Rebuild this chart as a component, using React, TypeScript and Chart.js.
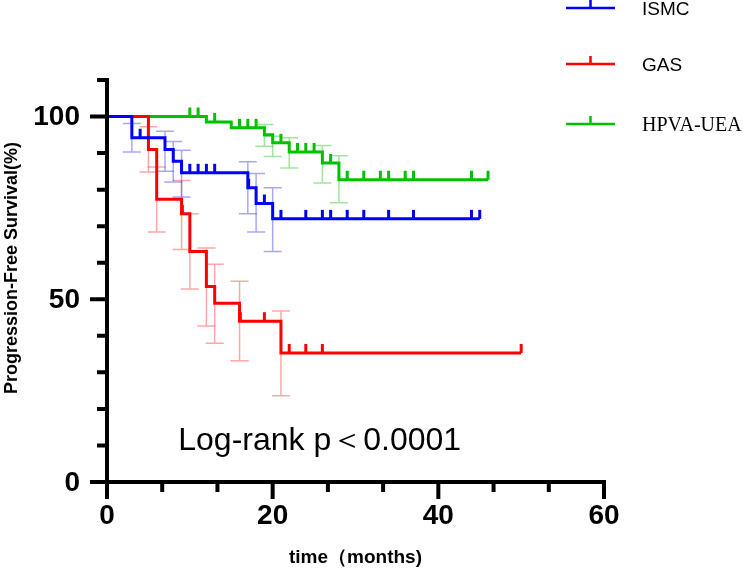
import React, { useEffect, useRef } from 'react';
import { Chart, registerables } from 'chart.js';
Chart.register(...registerables);

// ---------- data ----------
const groupLabels = ['ISMC', 'GAS', 'HPVA-UEA'];

const ismcTimes = [0, 3, 7, 8, 9, 17, 18, 20, 45];
const ismcSurv = [100, 94.2, 91.0, 87.8, 84.6, 80.5, 76.2, 72.0, 72.0];
const ismcCensored = [4, 10, 11, 12, 13, 17.1, 19, 21, 24, 26, 27, 29, 31, 34, 37, 44, 45];
const ismcErrTimes = [3, 7, 8, 9, 17, 18, 20];
const ismcErrLow = [90.3, 85.0, 82.1, 78.0, 73.4, 68.4, 63.1];
const ismcErrHigh = [98.1, 96.0, 93.2, 90.8, 87.6, 84.4, 80.5];

const gasTimes = [0, 5, 6, 9, 10, 12, 13, 16, 21, 50];
const gasSurv = [100, 91.0, 77.4, 73.4, 63.1, 53.5, 48.9, 44.0, 35.3, 35.3];
const gasCensored = [9.1, 16.1, 19, 22, 24, 26, 50];
const gasErrTimes = [5, 6, 9, 10, 12, 13, 16, 21];
const gasErrLow = [84.8, 68.4, 63.6, 52.8, 42.7, 38.0, 33.2, 23.6];
const gasErrHigh = [97.2, 86.2, 82.5, 73.4, 64.0, 59.6, 54.9, 46.8];

const hpvaTimes = [0, 12, 15, 19, 20, 22, 26, 28, 46];
const hpvaSurv = [100, 98.5, 96.9, 95.0, 92.8, 90.3, 87.3, 82.7, 82.7];
const hpvaCensored = [10, 11, 13, 16, 17, 18, 21, 23, 24, 25, 27, 29, 31, 33, 34, 36, 37, 44, 46];
const hpvaErrTimes = [19, 20, 22, 26, 28];
const hpvaErrLow = [91.9, 89.1, 85.9, 81.8, 76.4];
const hpvaErrHigh = [97.8, 94.6, 94.2, 92.1, 89.3];

const xMajorTicks = [0, 20, 40, 60];
const xMinorTicks = [20 / 3, 40 / 3, 80 / 3, 100 / 3, 140 / 3, 160 / 3];
const yMajorTicks = [0, 50, 100];
const yMinorTicks = [10, 20, 30, 40, 60, 70, 80, 90, 110];

const xTitle = 'time（months)';
const yTitle = 'Progression-Free Survival(%)';
const annotationText = 'Log-rank p＜0.0001';

// ---------- helpers ----------
const survAt = (times: number[], surv: number[], t: number) => {
  let v = surv[0];
  for (let i = 0; i < times.length; i++) if (times[i] <= t) v = surv[i];
  return v;
};

const groups = [
  {
    label: groupLabels[0], color: '#0000ff', light: 'rgba(60,60,255,0.45)',
    times: ismcTimes, surv: ismcSurv, cens: ismcCensored,
    et: ismcErrTimes, el: ismcErrLow, eh: ismcErrHigh,
    font: '19px "Liberation Sans", Arial, sans-serif',
  },
  {
    label: groupLabels[1], color: '#ff0000', light: 'rgba(255,60,60,0.45)',
    times: gasTimes, surv: gasSurv, cens: gasCensored,
    et: gasErrTimes, el: gasErrLow, eh: gasErrHigh,
    font: '19px "Liberation Sans", Arial, sans-serif',
  },
  {
    label: groupLabels[2], color: '#00c000', light: 'rgba(40,200,40,0.45)',
    times: hpvaTimes, surv: hpvaSurv, cens: hpvaCensored,
    et: hpvaErrTimes, el: hpvaErrLow, eh: hpvaErrHigh,
    font: '20px "Liberation Serif", "Times New Roman", serif',
  },
];

const errorBarPlugin = {
  id: 'kmErrorBars',
  beforeDatasetsDraw(chart: any) {
    const ctx = chart.ctx;
    const xs = chart.scales.x, ys = chart.scales.y;
    ctx.save();
    ctx.lineWidth = 1.5;
    ctx.lineCap = 'butt';
    for (let g = groups.length - 1; g >= 0; g--) {
      const gr = groups[g];
      ctx.strokeStyle = gr.light;
      gr.et.forEach((t, i) => {
        const x = xs.getPixelForValue(t);
        const yl = ys.getPixelForValue(gr.el[i]);
        const yh = ys.getPixelForValue(gr.eh[i]);
        ctx.beginPath();
        ctx.moveTo(x, yl); ctx.lineTo(x, yh);
        ctx.moveTo(x - 9, yl); ctx.lineTo(x + 9, yl);
        ctx.moveTo(x - 9, yh); ctx.lineTo(x + 9, yh);
        ctx.stroke();
      });
    }
    ctx.restore();
  },
};

const axesPlugin = {
  id: 'kmAxes',
  afterDraw(chart: any) {
    const ctx = chart.ctx;
    const xs = chart.scales.x, ys = chart.scales.y;
    const x0 = xs.getPixelForValue(xs.min), x1 = xs.getPixelForValue(xs.max);
    const y0 = ys.getPixelForValue(ys.min), y1 = ys.getPixelForValue(ys.max);
    ctx.save();
    ctx.strokeStyle = '#000';
    ctx.fillStyle = '#000';
    ctx.lineWidth = 4;
    ctx.lineCap = 'butt';
    ctx.beginPath();
    ctx.moveTo(x0, y0 + 2); ctx.lineTo(x0, y1 - 2);
    ctx.moveTo(x0 - 2, y0); ctx.lineTo(x1 + 2, y0);
    yMajorTicks.forEach((v) => { const y = ys.getPixelForValue(v); ctx.moveTo(x0, y); ctx.lineTo(x0 - 17, y); });
    yMinorTicks.forEach((v) => { const y = ys.getPixelForValue(v); ctx.moveTo(x0, y); ctx.lineTo(x0 - 10, y); });
    xMajorTicks.forEach((v) => { const x = xs.getPixelForValue(v); ctx.moveTo(x, y0); ctx.lineTo(x, y0 + 17); });
    xMinorTicks.forEach((v) => { const x = xs.getPixelForValue(v); ctx.moveTo(x, y0); ctx.lineTo(x, y0 + 10); });
    ctx.stroke();

    ctx.font = 'bold 28px "Liberation Sans", Arial, sans-serif';
    ctx.textAlign = 'right';
    ctx.textBaseline = 'middle';
    yMajorTicks.forEach((v) => ctx.fillText(String(v), x0 - 27, ys.getPixelForValue(v) + 1));
    ctx.textAlign = 'center';
    ctx.textBaseline = 'top';
    xMajorTicks.forEach((v) => ctx.fillText(String(v), xs.getPixelForValue(v), y0 + 20));

    // axis titles
    ctx.font = 'bold 19px "Liberation Sans", Arial, sans-serif';
    ctx.textAlign = 'center';
    ctx.textBaseline = 'middle';
    ctx.fillText(xTitle, (x0 + x1) / 2, y0 + 76);
    ctx.save();
    ctx.translate(12, 268);
    ctx.rotate(-Math.PI / 2);
    ctx.font = 'bold 18px "Liberation Sans", Arial, sans-serif';
    ctx.fillText(yTitle, 0, 0);
    ctx.restore();

    // log-rank annotation
    ctx.font = '32px "Liberation Sans", Arial, sans-serif';
    ctx.textAlign = 'left';
    ctx.textBaseline = 'alphabetic';
    ctx.fillText(annotationText, xs.getPixelForValue(8.6), ys.getPixelForValue(8.8));

    // legend
    const legendRows = [8, 64, 124];
    groups.forEach((gr, i) => {
      const y = legendRows[i];
      ctx.strokeStyle = gr.color;
      ctx.lineWidth = 2.5;
      ctx.beginPath();
      ctx.moveTo(566, y); ctx.lineTo(615, y);
      ctx.moveTo(590.5, y); ctx.lineTo(590.5, y - 8);
      ctx.stroke();
      ctx.fillStyle = '#000';
      ctx.font = gr.font;
      ctx.textBaseline = 'middle';
      ctx.fillText(gr.label, 642, y + 2);
    });
    ctx.restore();
  },
};

export default function App() {
  const ref = useRef<HTMLCanvasElement>(null);
  useEffect(() => {
    const canvas = ref.current!;
    const datasets: any[] = [];
    groups.forEach((gr) => {
      datasets.push({
        label: gr.label,
        data: gr.times.map((t, i) => ({ x: t, y: gr.surv[i] })),
        showLine: true,
        stepped: 'before',
        borderColor: gr.color,
        borderWidth: 3,
        pointRadius: 0,
        fill: false,
        clip: false,
      });
    });
    groups.forEach((gr) => {
      datasets.push({
        label: gr.label + ' censored',
        data: gr.cens.map((t) => ({ x: t, y: survAt(gr.times, gr.surv, t) })),
        showLine: false,
        pointStyle: 'dash',
        rotation: -90,
        pointRadius: 9,
        pointBorderWidth: 3,
        pointBorderColor: gr.color,
        pointBackgroundColor: gr.color,
        borderColor: gr.color,
        clip: false,
      });
    });
    const chart = new Chart(canvas, {
      type: 'scatter',
      data: { datasets },
      options: {
        responsive: false,
        animation: false,
        layout: { padding: { left: 107, right: 140, top: 80, bottom: 92 } },
        plugins: { legend: { display: false }, tooltip: { enabled: false } },
        scales: {
          x: { type: 'linear', min: 0, max: 60, display: false },
          y: { type: 'linear', min: 0, max: 110, display: false },
        },
      },
      plugins: [errorBarPlugin, axesPlugin],
    });
    return () => chart.destroy();
  }, []);
  return (
    <div style={{ position: 'fixed', left: 0, top: 0, width: 744, height: 574, background: '#fff' }}>
      <canvas ref={ref} width={744} height={574} style={{ width: 744, height: 574 }} />
    </div>
  );
}
